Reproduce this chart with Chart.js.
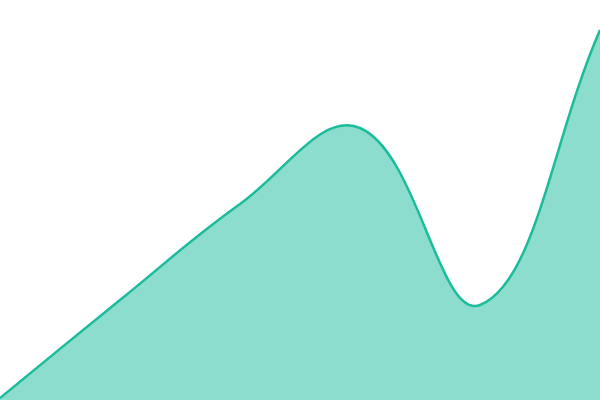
<!DOCTYPE html>
<html><head><meta charset="utf-8">
<script src="https://cdn.jsdelivr.net/npm/chart.js@4"></script>
<style>html,body{margin:0;padding:0;background:#fff}#w{width:600px;height:400px}</style>
</head><body><div id="w"><canvas id="c"></canvas></div>
<script>
const categories = ['A','B','C','D','E','F'];
const values = [2, 100, 196, 272, 95, 370];
const yMin = 0, yMax = 400;
new Chart(document.getElementById('c'), {
  type: 'line',
  data: { labels: categories, datasets: [{
    data: values, fill: 'origin', tension: 0.4,
    borderColor: '#1abc9c', backgroundColor: 'rgba(26,188,156,0.5)',
    borderWidth: 2.5, pointRadius: 0
  }]},
  options: {
    responsive: true, maintainAspectRatio: false, animation: false,
    layout: { padding: 0 },
    plugins: { legend: { display: false }, tooltip: { enabled: false } },
    scales: {
      x: { display: false, offset: false },
      y: { display: false, min: yMin, max: yMax }
    }
  }
});
</script></body></html>
